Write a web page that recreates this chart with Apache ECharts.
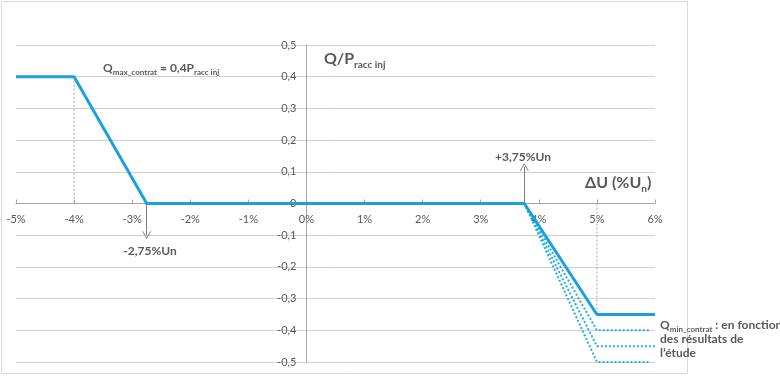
<!DOCTYPE html>
<html>
<head>
<meta charset="utf-8">
<script src="https://cdn.jsdelivr.net/npm/echarts@6/dist/echarts.min.js"></script>
<style>
html,body{margin:0;padding:0;background:#fff;}
#chart{width:780px;height:380px;}
</style>
</head>
<body>
<div id="chart"></div>
<script>
// ---- data ----
const xTicks = [-5, -4, -3, -2, -1, 0, 1, 2, 3, 4, 5, 6];        // % labels
const yTicks = [-0.5, -0.4, -0.3, -0.2, -0.1, 0, 0.1, 0.2, 0.3, 0.4, 0.5];

const mainX = [-5, -4, -2.75, 3.75, 5, 6];
const mainY = [0.4, 0.4, 0, 0, -0.35, -0.35];

const dotAX = [3.75, 5, 5.9];
const dotAY = [0, -0.4, -0.4];
const dotBX = [3.75, 5, 6];
const dotBY = [0, -0.45, -0.45];
const dotCX = [3.75, 5, 5.9];
const dotCY = [0, -0.5, -0.5];

const guideLeftX = [-4, -4];
const guideLeftY = [0.4, 0];
const guideRightX = [5, 5];
const guideRightY = [0, -0.35];

const arrowDownX = [-2.75, -2.75];
const arrowDownY = [0, -0.1];
const arrowUpX = [3.75, 3.75];
const arrowUpY = [0, 0.115];

const labelDown = '-2,75%Un';
const labelUp = '+3,75%Un';

// ---- helpers ----
const zip = (xs, ys) => xs.map((x, i) => [x, ys[i]]);
const FONT = 'Lato, "Open Sans", sans-serif';
const blue = '#1aa0dc';

const W = 780, H = 380;
const G = {left: 16, right: 125, top: 45, bottom: 18};
const xMin = xTicks[0], xMax = xTicks[xTicks.length - 1];
const yMin = yTicks[0], yMax = yTicks[yTicks.length - 1];
const gw = W - G.left - G.right, gh = H - G.top - G.bottom;
// axis offsets so that both axes (with labels) sit on the zero lines
const xAxisOffset = -(gh * (0 - yMin) / (yMax - yMin));
const yAxisOffset = -(gw * (0 - xMin) / (xMax - xMin));

const chart = echarts.init(document.getElementById('chart'), null, {renderer: 'canvas'});

const dotted = (xs, ys) => ({
  type: 'line', data: zip(xs, ys), symbol: 'none', silent: true,
  lineStyle: {color: '#22aee6', width: 2, type: [2, 2]}, z: 3
});
const guide = (xs, ys) => ({
  type: 'line', data: zip(xs, ys), symbol: 'none', silent: true,
  lineStyle: {color: '#a6a6a6', width: 1, type: [2, 2]}, z: 2
});
const arrow = (xs, ys) => ({
  type: 'line', data: [], silent: true,
  markLine: {
    silent: true, symbol: ['none', 'path://M0,10 L5,0 L10,10 L9,10 L5,2 L1,10 Z'], symbolSize: [9, 8],
    label: {show: false},
    lineStyle: {color: '#7f7f7f', width: 1, type: 'solid'},
    data: [[{coord: [xs[0], ys[0]]}, {coord: [xs[1], ys[1]]}]]
  }
});

chart.setOption({
  animation: false,
  backgroundColor: '#fff',
  grid: {left: G.left, right: G.right, top: G.top, bottom: G.bottom, containLabel: false, outerBoundsMode: 'none'},
  xAxis: {
    type: 'value', min: xMin, max: xMax, interval: 1, position: 'bottom', offset: xAxisOffset,
    axisLine: {onZero: false, lineStyle: {color: '#a6a6a6'}},
    axisTick: {show: true, inside: true, length: 4, lineStyle: {color: '#a6a6a6'}},
    axisLabel: {color: '#595959', fontSize: 11, fontFamily: FONT, margin: 10,
      formatter: v => v + '%'},
    splitLine: {show: false}
  },
  yAxis: {
    type: 'value', min: yMin, max: yMax, interval: 0.1, position: 'left', offset: yAxisOffset,
    axisLine: {show: true, onZero: false, lineStyle: {color: '#a6a6a6'}},
    axisTick: {show: false},
    axisLabel: {color: '#595959', fontSize: 11, fontFamily: FONT, margin: 10,
      formatter: v => (Math.round(v * 10) / 10).toString().replace('.', ',')},
    splitLine: {show: true, lineStyle: {color: '#d0d0d0', width: 1}}
  },
  series: [
    guide(guideLeftX, guideLeftY),
    guide(guideRightX, guideRightY),
    dotted(dotAX, dotAY),
    dotted(dotBX, dotBY),
    dotted(dotCX, dotCY),
    {type: 'line', data: zip(mainX, mainY), symbol: 'none', silent: true,
     lineStyle: {color: blue, width: 3}, z: 5},
    arrow(arrowDownX, arrowDownY),
    arrow(arrowUpX, arrowUpY)
  ],
  graphic: [
    {type: 'rect', shape: {x: 1.5, y: 1.5, width: 686, height: 372},
     style: {fill: 'none', stroke: '#d9d9d9', lineWidth: 1}, silent: true},
    {type: 'text', left: 103, top: 62, silent: true,
     style: {text: '{b|Q}{s|max_contrat}{b| = 0,4P}{s|racc inj}', fontFamily: FONT,
       rich: {b: {fontSize: 12, fontWeight: 'bold', fill: '#595959', fontFamily: FONT, verticalAlign: 'bottom', lineHeight: 14},
              s: {fontSize: 8, fontWeight: 'bold', fill: '#595959', fontFamily: FONT, verticalAlign: 'bottom', lineHeight: 10, padding: [0, 0, -2, 0]}}}},
    {type: 'text', left: 324, top: 51, silent: true,
     style: {text: '{b|Q/P}{s|racc inj}', fontFamily: FONT,
       rich: {b: {fontSize: 16, fontWeight: 'bold', fill: '#595959', fontFamily: FONT, verticalAlign: 'bottom', lineHeight: 18},
              s: {fontSize: 10, fontWeight: 'bold', fill: '#595959', fontFamily: FONT, verticalAlign: 'bottom', lineHeight: 12, padding: [0, 0, -3, 0]}}}},
    {type: 'text', left: 585, top: 175, silent: true,
     style: {text: '{b|ΔU (%U}{s|n}{b|)}', fontFamily: FONT,
       rich: {b: {fontSize: 16, fontWeight: 'bold', fill: '#595959', fontFamily: FONT, verticalAlign: 'bottom', lineHeight: 18},
              s: {fontSize: 10, fontWeight: 'bold', fill: '#595959', fontFamily: FONT, verticalAlign: 'bottom', lineHeight: 12, padding: [0, 0, -3, 0]}}}},
    {type: 'text', left: 660, top: 319, silent: true,
     style: {text: '{b|Q}{s|min_contrat}{b| : en fonction}\n{b|des résultats de}\n{b|l’étude}', fontFamily: FONT,
       rich: {b: {fontSize: 12, fontWeight: 'bold', fill: '#595959', fontFamily: FONT, verticalAlign: 'bottom', lineHeight: 14},
              s: {fontSize: 8, fontWeight: 'bold', fill: '#595959', fontFamily: FONT, verticalAlign: 'bottom', lineHeight: 10, padding: [0, 0, -2, 0]}}}},
    {type: 'text', x: 150, y: 251, silent: true,
     style: {text: labelDown, fontSize: 12, fontWeight: 'bold', fill: '#595959', fontFamily: FONT, align: 'center', verticalAlign: 'middle'}},
    {type: 'text', x: 523, y: 157, silent: true,
     style: {text: labelUp, fontSize: 12, fontWeight: 'bold', fill: '#595959', fontFamily: FONT, align: 'center', verticalAlign: 'middle'}}
  ]
});
</script>
</body>
</html>
